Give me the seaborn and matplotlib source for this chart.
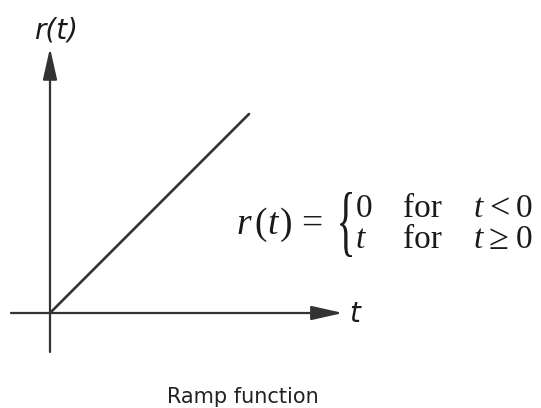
import matplotlib
matplotlib.use("Agg")
import matplotlib.pyplot as plt
import seaborn as sns
import numpy as np
import pandas as pd
from matplotlib.textpath import TextPath
from matplotlib.patches import PathPatch
from matplotlib.font_manager import FontProperties
from matplotlib.transforms import Affine2D

# ramp r(t) = t for t >= 0
t_vals = [0.0, 1.0]
r_vals = [0.0, 1.0]

caption = "Ramp function"
y_label = "r(t)"
x_label = "t"

W, H = 541, 408
ink = "#333333"
txt = "#1a1a1a"

sns.set_style("white")
fig = plt.figure(figsize=(W / 100, H / 100), dpi=100)
ax = fig.add_axes([0, 0, 1, 1])
ax.axis("off")

# pixel layout: origin at (50, 313) from top-left, 199 px per unit
ox, oy, scale = 50, 313, 199
ax.set_xlim(-ox / scale, (W - ox) / scale)
ax.set_ylim(-(H - oy) / scale, oy / scale)

df = pd.DataFrame({"t": t_vals, "r": r_vals})
sns.lineplot(data=df, x="t", y="r", ax=ax, color=ink, lw=1.9)

arrow = dict(arrowstyle="-|>,head_length=1.2,head_width=0.27",
             color=ink, lw=1.6, mutation_scale=16, shrinkA=0, shrinkB=0)
ax.annotate("", xy=(1.472, 0), xytext=(-0.196, 0), arrowprops=arrow)
ax.annotate("", xy=(0, 1.332), xytext=(0, -0.196), arrowprops=arrow)


def px(x, y):
    return x / W, 1 - y / H


sans_it = dict(family="DejaVu Sans", style="oblique", size=20, color=txt)
fig.text(*px(56, 38), y_label, ha="center", va="baseline", **sans_it)
fig.text(*px(349, 322), x_label, ha="left", va="baseline", **sans_it)

serif = dict(family="Liberation Serif", color=txt)
big = dict(size=27, **serif)
for s, x, it in [("r", 236, True), ("(", 254, False), ("t", 267, True),
                 (")", 280, False), ("=", 301, False)]:
    fig.text(*px(x, 234), s, ha="left", va="baseline",
             style="italic" if it else "normal", **big)

row = dict(size=24, **serif)
rel_font = dict(size=26, **serif)
rows = [(217, "0", False, "<"), (248, "t", True, "\u2265")]
for base, first, first_it, rel in rows:
    fig.text(*px(356, base), first, ha="left", va="baseline",
             style="italic" if first_it else "normal", **row)
    fig.text(*px(403, base), "for", ha="left", va="baseline", **row)
    fig.text(*px(474, base), "t", ha="left", va="baseline", style="italic", **row)
    fig.text(*px(489, base + 1), rel, ha="left", va="baseline", **rel_font)
    fig.text(*px(516, base), "0", ha="left", va="baseline", **row)

# stretched brace
tp = TextPath((0, 0), "{", size=40, prop=FontProperties(family="Liberation Serif"))
bb = tp.get_extents()
bx0, bx1, by0, by1 = 340, 352, H - 257, H - 192
tr = (Affine2D().translate(-bb.x0, -bb.y0)
      .scale((bx1 - bx0) / bb.width, (by1 - by0) / bb.height)
      .translate(bx0, by0))
fig.patches.append(PathPatch(tr.transform_path(tp), color=txt, lw=0,
                             transform=None, figure=fig))

fig.text(*px(243, 403), caption, ha="center", va="baseline",
         family="DejaVu Sans", size=15, color="#222222")

fig.savefig("out.png", dpi=100)
